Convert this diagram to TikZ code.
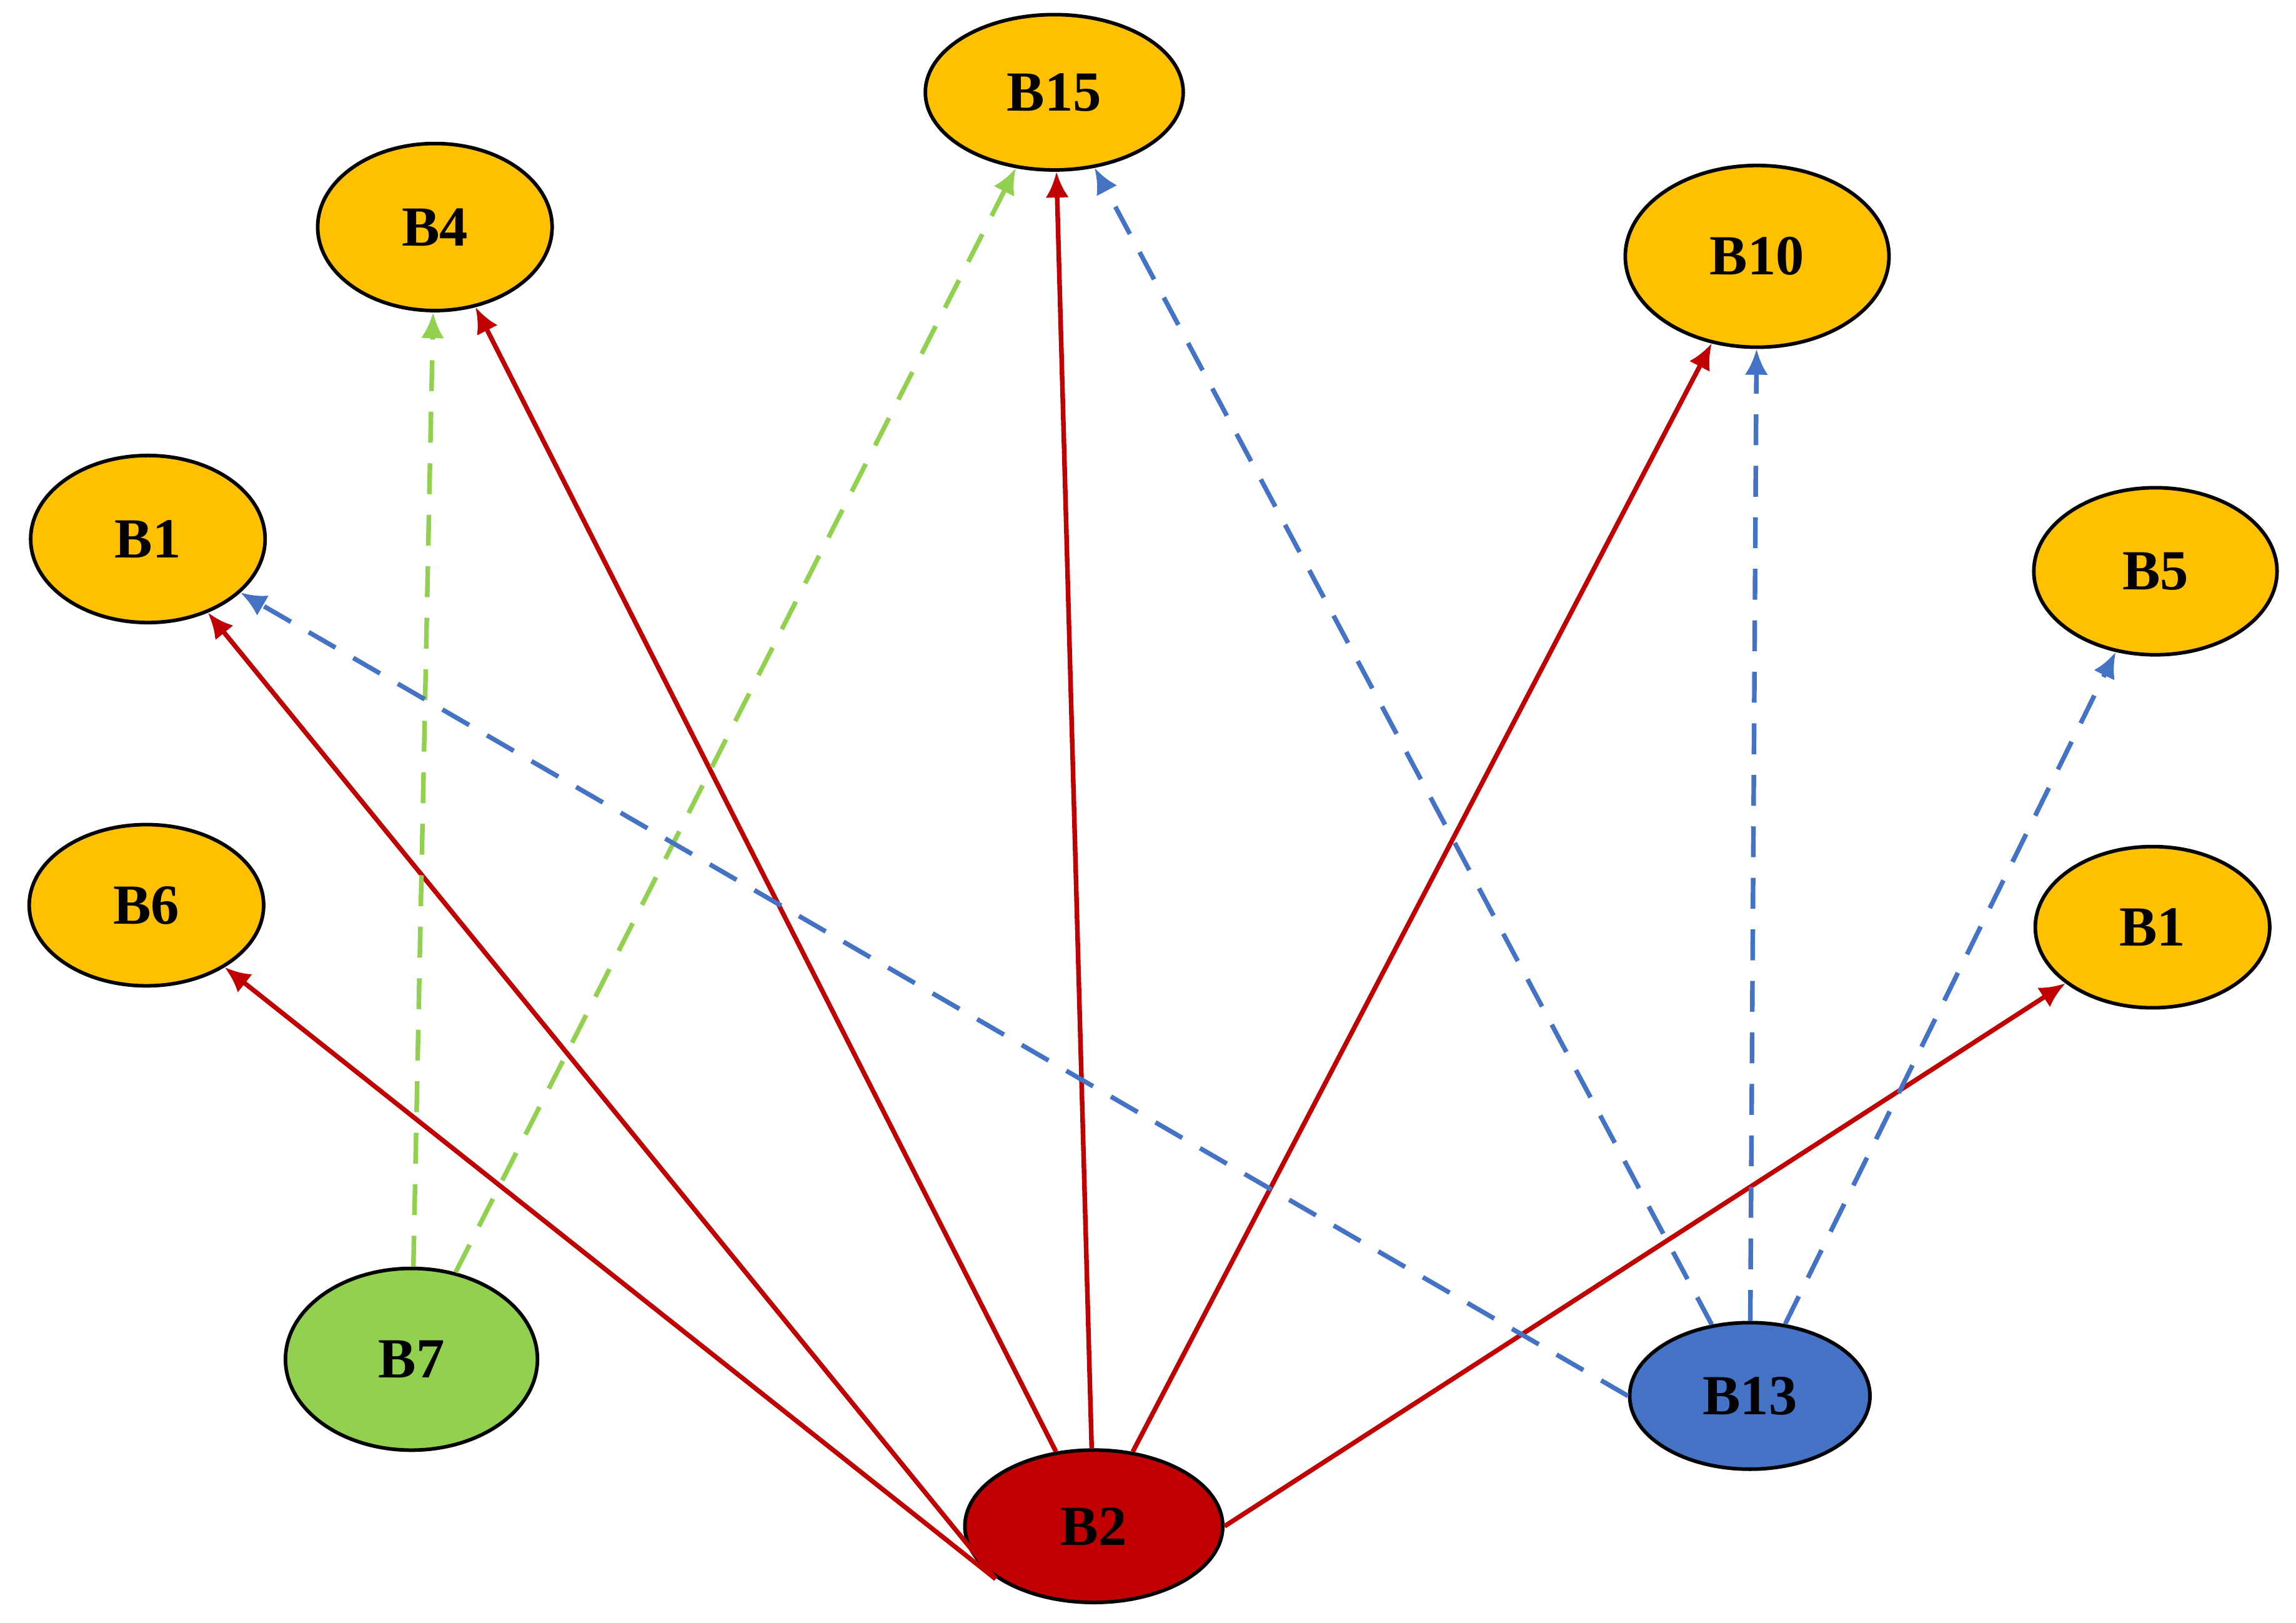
\documentclass[tikz,border=0pt]{standalone}
\usepackage{fontspec}
\setmainfont{Liberation Serif}
\usetikzlibrary{arrows.meta,shapes.geometric}
\definecolor{org}{HTML}{FFC000}
\definecolor{grn}{HTML}{92D050}
\definecolor{blu}{HTML}{4472C4}
\definecolor{rd}{HTML}{C00000}
\begin{document}
\begin{tikzpicture}[x=0.01cm,y=-0.01cm,
 nd/.style={ellipse,draw=black,line width=0.7pt,inner sep=0pt,font=\fontsize{11}{13}\selectfont\bfseries},
 r/.style={draw=rd,line width=0.9pt,-{Latex[length=5pt,width=4.5pt]}},
 g/.style={draw=grn,line width=0.9pt,dash pattern=on 6pt off 4pt,-{Latex[length=5pt,width=4.5pt]}},
 b/.style={draw=blu,line width=0.9pt,dash pattern=on 6pt off 4pt,-{Latex[length=5pt,width=4.5pt]}}]
\useasboundingbox (0,0) rectangle (1568,1108);
\node[nd,fill=org,minimum width=1.76cm,minimum height=1.06cm] (B15) at (720,63) {B15};
\node[nd,fill=org,minimum width=1.60cm,minimum height=1.14cm] (B4) at (297,155) {B4};
\node[nd,fill=org,minimum width=1.80cm,minimum height=1.24cm] (B10) at (1200,175) {B10};
\node[nd,fill=org,minimum width=1.60cm,minimum height=1.14cm] (B1L) at (101,368) {B1};
\node[nd,fill=org,minimum width=1.66cm,minimum height=1.14cm] (B5) at (1472,390) {B5};
\node[nd,fill=org,minimum width=1.60cm,minimum height=1.10cm] (B6) at (100,618) {B6};
\node[nd,fill=org,minimum width=1.60cm,minimum height=1.10cm] (B1R) at (1470,633) {B1};
\node[nd,fill=grn,minimum width=1.72cm,minimum height=1.24cm] (B7) at (281,928) {B7};
\node[nd,fill=blu,minimum width=1.64cm,minimum height=1.00cm] (B13) at (1195,953) {B13};
\node[nd,fill=rd,minimum width=1.76cm,minimum height=1.04cm] (B2) at (747,1042) {B2};
\coordinate (s1) at (680,1078);
\draw[r] (s1) -- (B6);
\draw[r] (s1) -- (B1L);
\draw[r] (B2) -- (B4);
\draw[r] (B2) -- (B15);
\draw[r] (B2) -- (B10);
\draw[r] (B2.east) -- (B1R);
\draw[g] (B7) -- (B4);
\draw[g] (B7) -- (B15);
\draw[b] (B13.west) -- (B1L);
\draw[b] (B13) -- (B15);
\draw[b] (B13) -- (B10);
\draw[b] (B13) -- (B5);
\end{tikzpicture}
\end{document}
